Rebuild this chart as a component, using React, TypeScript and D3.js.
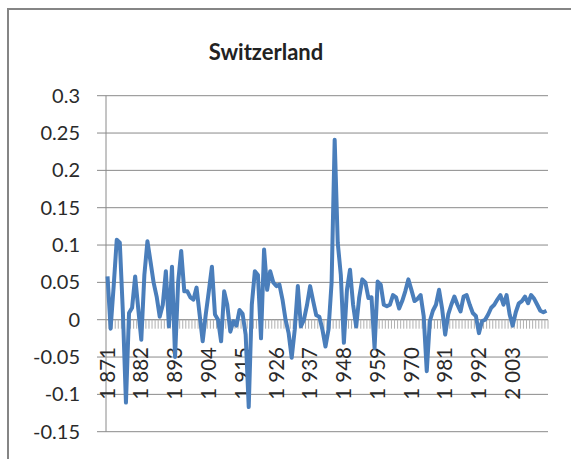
import React from "react";
import * as d3 from "d3";

const title = "Switzerland";
const firstYear = 1871;
const values: number[] = [
  0.058, -0.012, 0.045, 0.107, 0.103, 0.01, -0.111, 0.009, 0.016, 0.058,
  0.015, -0.027, 0.06, 0.105, 0.078, 0.05, 0.031, 0.004, 0.02, 0.065,
  -0.009, 0.071, -0.05, 0.05, 0.092, 0.038, 0.038, 0.03, 0.027, 0.043,
  0.007, -0.029, 0.007, 0.038, 0.071, 0.007, 0.0, -0.029, 0.038, 0.02,
  -0.016, -0.002, -0.008, 0.013, 0.008, -0.02, -0.117, 0.02, 0.065, 0.06,
  -0.025, 0.094, 0.04, 0.065, 0.05, 0.045, 0.047, 0.027, 0.0, -0.018,
  -0.051, -0.013, 0.045, -0.009, 0.0, 0.02, 0.045, 0.025, 0.006, 0.004,
  -0.013, -0.036, -0.013, 0.05, 0.241, 0.103, 0.06, -0.031, 0.04, 0.067,
  0.02, -0.009, 0.03, 0.054, 0.05, 0.029, 0.03, -0.038, 0.051, 0.047,
  0.02, 0.018, 0.02, 0.033, 0.03, 0.015, 0.025, 0.038, 0.054, 0.04,
  0.025, 0.028, 0.033, 0.005, -0.069, -0.002, 0.012, 0.02, 0.04, 0.015,
  -0.02, 0.007, 0.02, 0.031, 0.02, 0.011, 0.031, 0.033, 0.02, 0.009,
  0.005, -0.018, -0.002, 0.0, 0.007, 0.016, 0.02, 0.027, 0.033, 0.02,
  0.033, 0.007, -0.008, 0.01, 0.022, 0.025, 0.031, 0.022, 0.033, 0.028,
  0.02, 0.012, 0.01, 0.012,
];
const years: number[] = values.map((_, i) => firstYear + i);
const tickYears: number[] = [1871, 1882, 1893, 1904, 1915, 1926, 1937, 1948, 1959, 1970, 1981, 1992, 2003];
const tickLabels: string[] = ["1 871", "1 882", "1 893", "1 904", "1 915", "1 926", "1 937", "1 948", "1 959", "1 970", "1 981", "1 992", "2 003"];
const yTicks: number[] = [-0.15, -0.1, -0.05, 0, 0.05, 0.1, 0.15, 0.2, 0.25, 0.3];
const yTickLabels: string[] = ["-0.15", "-0.1", "-0.05", "0", "0.05", "0.1", "0.15", "0.2", "0.25", "0.3"];

const W = 571;
const H = 459;
const left = 106;
const right = 548;
const top = 95.7;
const bottom = 431.7;

export default function App() {
  const x = d3.scaleBand<number>().domain(years).range([left, right]).paddingInner(0).paddingOuter(0);
  const y = d3.scaleLinear().domain([-0.15, 0.3]).range([bottom, top]);
  const cx = (yr: number) => (x(yr) as number) + x.bandwidth() / 2;
  const line = d3
    .line<number>()
    .x((_, i) => cx(years[i]))
    .y((d) => y(d));
  const font = "Lato, 'Open Sans', sans-serif";
  const y0 = y(0);
  const catEdges = d3.range(years.length + 1).map((i) => left + i * x.bandwidth());
  return (
    <svg width={W} height={H} style={{ position: "absolute", left: 0, top: 0, background: "#fff" }}>
      <rect x={0} y={0} width={W} height={H} fill="#fff" />
      <rect x={8} y={9} width={W + 20} height={H + 20} fill="#fff" stroke="#858585" strokeWidth={2} />
      <text x={266} y={60} textAnchor="middle" fontFamily={font} fontWeight="bold" fontSize={22} fill="#222">
        {title}
      </text>
      {yTicks.map((t, i) => (
        <g key={t}>
          <line x1={97} x2={right} y1={y(t)} y2={y(t)} stroke="#8a8a8a" strokeWidth={1} />
          <text x={80} y={y(t)} dy="0.35em" textAnchor="end" fontFamily={font} fontSize={20} fill="#2a2a2a">
            {yTickLabels[i]}
          </text>
        </g>
      ))}
      <line x1={left} x2={left} y1={top} y2={bottom} stroke="#8a8a8a" strokeWidth={1} />
      <line x1={left} x2={right} y1={y0} y2={y0} stroke="#999" strokeWidth={1} />
      {catEdges.map((e, i) => (
        <line key={i} x1={e} x2={e} y1={y0} y2={y0 + 9} stroke="#b0b0b0" strokeWidth={1} />
      ))}
      {tickYears.map((yr, i) => (
        <text
          key={yr}
          transform={`translate(${cx(yr)},347) rotate(-90)`}
          textAnchor="end"
          dy="0.35em"
          fontFamily={font}
          fontSize={20.5}
          fill="#2a2a2a"
        >
          {tickLabels[i]}
        </text>
      ))}
      <path d={line(values) || ""} fill="none" stroke="#4a7ebb" strokeWidth={4} strokeLinejoin="round" />
    </svg>
  );
}
